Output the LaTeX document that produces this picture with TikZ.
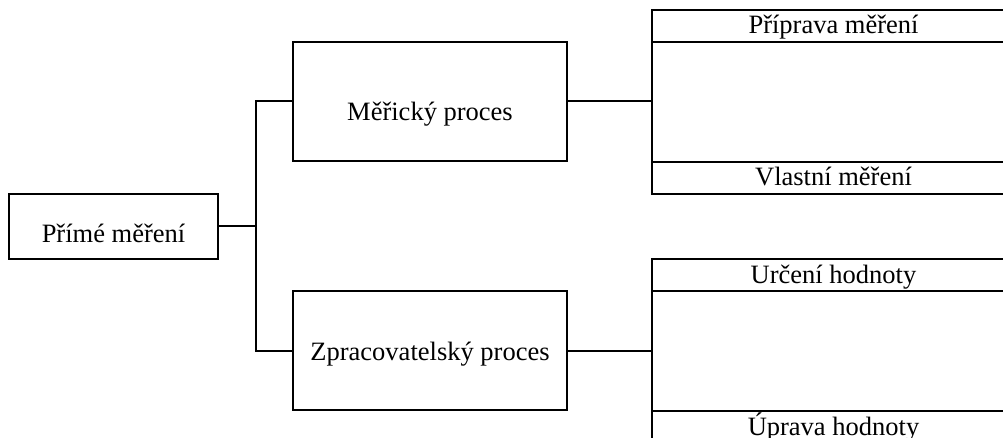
\documentclass[tikz,border=0pt]{standalone}
\usepackage{fontspec}
\setmainfont{Liberation Serif}
\begin{document}
\begin{tikzpicture}[x=1pt,y=-1pt,
  every node/.style={inner sep=0pt, outer sep=0pt, font=\fontsize{26.5}{30}\selectfont},
  box/.style={draw, line width=2pt, rectangle},
  strip/.style={box, minimum width=363pt, minimum height=32pt, text height=22pt, text depth=6pt},
  link/.style={line width=2pt}]
\clip (0,0) rectangle (1003,438);
\fill[white] (0,0) rectangle (1003,438);
% root
\node[box, minimum width=209pt, minimum height=65pt, text height=32pt, text depth=0pt]
  (prime) at (113.5,226.5) {Přímé měření};
% processes
\node[box, minimum width=274pt, minimum height=119pt, text height=38pt, text depth=0pt]
  (mer) at (430,101.5) {Měřický proces};
\node[box, minimum width=274pt, minimum height=119pt, text height=24pt, text depth=5pt]
  (zpr) at (430,350.5) {Zpracovatelský proces};
% stages of the measuring process
\node[strip] (prip) at (833.5,26) {Příprava měření};
\node[box, minimum width=363pt, minimum height=120pt] (mbody) at (833.5,102) {};
\node[strip] (vlast) at (833.5,178) {Vlastní měření};
% stages of the processing
\node[strip] (urc) at (833.5,275) {Určení hodnoty};
\node[box, minimum width=363pt, minimum height=120pt] (zbody) at (833.5,351) {};
\node[strip] (upr) at (833.5,427) {Úprava hodnoty};
% connectors
\draw[link] (prime.east) -- ++(38,0) coordinate (j);
\draw[link] (j) |- (mer.west);
\draw[link] (j) |- (zpr.west);
\draw[link] (mer.east) -- (mer.east -| mbody.west);
\draw[link] (zpr.east) -- (zpr.east -| zbody.west);
\end{tikzpicture}
\end{document}
